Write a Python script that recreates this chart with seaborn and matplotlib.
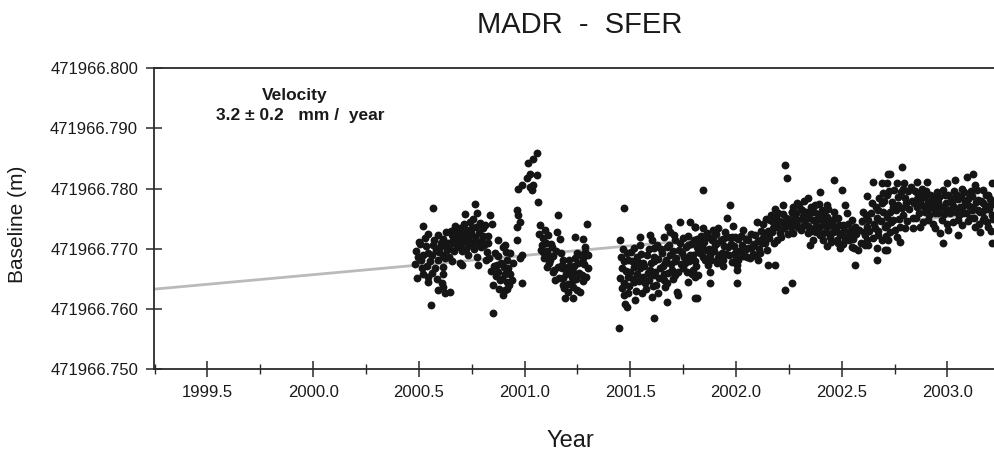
import matplotlib
matplotlib.use("Agg")
import matplotlib.pyplot as plt
import seaborn as sns
import pandas as pd
import numpy as np
from matplotlib.ticker import MultipleLocator, FixedLocator, FormatStrFormatter

plt.rcParams['font.family'] = ['Liberation Sans', 'DejaVu Sans']

title = "MADR  -  SFER"
x_label = "Year"
y_label = "Baseline (m)"
velocity_label = "Velocity"
velocity_text = "3.2 ± 0.2   mm /  year"

# baseline values are stored as mm above this reference length (m)
BASE_M = 471966.750
y_ticks = [471966.750, 471966.760, 471966.770, 471966.780, 471966.790, 471966.800]
x_range = (1999.247, 2003.22)

# fitted trend
velocity_mm_per_year = 3.2
trend_start_year = 1999.247
trend_start_mm = 13.3
trend_end_year = 2003.22

# (year, mm above BASE_M)
seg_2000 = [
    (2000.568, 26.8), (2000.521, 23.8), (2000.766, 27.4), (2000.718, 25.8), (2000.774, 25.9),
    (2000.836, 25.6), (2000.742, 24.5), (2000.789, 24.3), (2000.844, 24.2), (2000.673, 23.8),
    (2000.694, 23.4), (2000.529, 21.8), (2000.505, 20.8), (2000.592, 22.3), (2000.616, 21.7),
    (2000.655, 22.3), (2000.718, 22.8), (2000.750, 23.4), (2000.805, 23.4), (2000.876, 21.5),
    (2000.497, 18.7), (2000.545, 19.3), (2000.568, 20.6), (2000.600, 20.3), (2000.632, 19.8),
    (2000.663, 20.9), (2000.694, 20.3), (2000.734, 21.5), (2000.766, 22.0), (2000.797, 21.5),
    (2000.828, 20.9), (2000.521, 19.0), (2000.552, 17.9), (2000.592, 18.1), (2000.624, 18.4),
    (2000.655, 17.9), (2000.694, 17.6), (2000.734, 19.0), (2000.774, 18.7), (2000.821, 19.5),
    (2000.860, 19.3), (2000.900, 20.3), (2000.513, 16.8), (2000.576, 16.8), (2000.616, 17.0),
    (2000.704, 17.3), (2000.781, 17.3), (2000.868, 17.3), (2000.915, 18.1), (2000.490, 15.1),
    (2000.545, 15.4), (2000.616, 15.9), (2000.876, 16.2), (2000.907, 15.9), (2000.545, 14.5),
    (2000.608, 14.3), (2000.884, 14.8), (2000.915, 14.5), (2000.616, 13.7), (2000.852, 14.0),
    (2000.624, 12.6), (2000.647, 12.9), (2000.907, 13.2), (2000.557, 10.6), (2000.849, 9.3),
    (2000.482, 17.5), (2000.486, 19.6), (2000.500, 21.2), (2000.509, 18.1), (2000.517, 15.8),
    (2000.533, 20.4), (2000.537, 17.2), (2000.541, 22.5), (2000.560, 19.0), (2000.564, 16.0),
    (2000.572, 21.4), (2000.580, 19.8), (2000.584, 15.0), (2000.588, 13.2), (2000.596, 19.5),
    (2000.604, 20.9), (2000.612, 18.9), (2000.620, 20.7), (2000.628, 22.8), (2000.636, 21.0),
    (2000.640, 18.6), (2000.644, 20.1), (2000.651, 22.9), (2000.659, 21.5), (2000.667, 19.6),
    (2000.671, 22.1), (2000.679, 20.4), (2000.683, 23.0), (2000.687, 21.3), (2000.698, 22.0),
    (2000.702, 19.7), (2000.710, 21.1), (2000.714, 24.1), (2000.722, 20.0), (2000.726, 23.2),
    (2000.730, 22.1), (2000.738, 20.6), (2000.746, 22.7), (2000.753, 21.0), (2000.757, 24.9),
    (2000.761, 20.0), (2000.770, 23.6), (2000.778, 21.0), (2000.785, 22.6), (2000.793, 20.3),
    (2000.801, 22.1), (2000.809, 20.6), (2000.813, 24.0), (2000.817, 18.2), (2000.825, 22.2),
    (2000.832, 18.5), (2000.840, 16.4), (2000.856, 17.1), (2000.864, 15.5), (2000.872, 18.8),
    (2000.880, 13.3), (2000.888, 17.7), (2000.892, 15.0), (2000.896, 12.4), (2000.903, 17.0),
    (2000.911, 19.5), (2000.919, 16.2), (2000.927, 14.0),
]
seg_2001a = [
    (2001.057, 35.9), (2001.041, 35.0), (2001.017, 34.2), (2001.026, 32.5), (2001.057, 32.3),
    (2001.010, 31.7), (2000.986, 30.6), (2000.970, 30.0), (2001.026, 30.3), (2001.041, 30.6),
    (2001.033, 29.8), (2001.065, 27.8), (2000.962, 26.4), (2000.970, 25.6), (2000.978, 24.5),
    (2000.962, 23.7), (2001.160, 25.6), (2001.294, 24.2), (2001.073, 24.0), (2001.097, 23.1),
    (2001.152, 22.8), (2001.112, 22.3), (2001.168, 21.7), (2001.239, 22.0), (2001.278, 21.7),
    (2000.962, 21.5), (2000.907, 20.6), (2001.081, 20.6), (2001.128, 20.3), (2001.286, 20.3),
    (2000.931, 19.3), (2000.986, 19.0), (2001.089, 19.5), (2001.112, 19.0), (2001.246, 19.3),
    (2001.286, 19.5), (2000.946, 17.6), (2000.978, 18.4), (2001.120, 18.1), (2001.183, 18.1),
    (2001.239, 18.4), (2001.278, 18.4), (2000.923, 16.8), (2001.105, 17.0), (2001.175, 17.3),
    (2001.207, 17.0), (2001.254, 17.6), (2001.302, 16.8), (2000.931, 15.9), (2001.136, 16.2),
    (2001.199, 16.5), (2001.231, 16.2), (2000.939, 14.8), (2000.986, 14.3), (2001.144, 14.8),
    (2001.183, 15.1), (2001.223, 15.4), (2001.270, 15.7), (2000.915, 13.4), (2001.183, 14.0),
    (2001.231, 13.7), (2001.207, 12.9), (2001.262, 12.9), (2001.191, 11.8), (2001.231, 11.8),
    (2001.069, 22.5), (2001.077, 19.8), (2001.085, 21.8), (2001.093, 18.4), (2001.101, 21.0),
    (2001.108, 19.6), (2001.116, 17.6), (2001.124, 20.8), (2001.132, 18.8), (2001.140, 16.5),
    (2001.148, 19.6), (2001.156, 17.0), (2001.164, 15.2), (2001.171, 19.3), (2001.179, 16.8),
    (2001.187, 13.5), (2001.195, 15.8), (2001.203, 14.2), (2001.211, 18.2), (2001.219, 16.9),
    (2001.227, 14.8), (2001.235, 17.2), (2001.243, 15.0), (2001.250, 13.2), (2001.258, 16.0),
    (2001.266, 18.9), (2001.274, 14.6), (2001.282, 17.5), (2001.290, 15.3), (2001.298, 19.0),
]
seg_2001b = [
    (2001.468, 26.8), (2001.452, 21.5), (2001.447, 6.8), (2001.610, 8.5), (2001.735, 24.5),
    (2001.783, 24.5), (2001.680, 23.7), (2001.806, 23.7), (2001.688, 22.8), (2001.594, 22.3),
    (2001.546, 22.0), (2001.657, 22.0), (2001.602, 21.5), (2001.712, 21.5), (2001.515, 20.1),
    (2001.546, 20.6), (2001.625, 20.6), (2001.672, 20.3), (2001.735, 20.9), (2001.775, 20.6),
    (2001.814, 20.3), (2001.483, 19.3), (2001.531, 18.7), (2001.578, 19.0), (2001.610, 18.7),
    (2001.649, 19.3), (2001.688, 19.0), (2001.743, 19.3), (2001.783, 19.0), (2001.468, 17.9),
    (2001.507, 17.9), (2001.562, 17.6), (2001.610, 17.9), (2001.665, 17.6), (2001.712, 17.9),
    (2001.759, 17.6), (2001.806, 17.9), (2001.460, 16.8), (2001.499, 16.2), (2001.546, 16.8),
    (2001.594, 16.5), (2001.641, 16.8), (2001.696, 16.5), (2001.751, 16.8), (2001.798, 16.5),
    (2001.452, 15.1), (2001.491, 15.4), (2001.531, 15.9), (2001.610, 15.6), (2001.657, 15.9),
    (2001.712, 15.6), (2001.806, 15.4), (2001.468, 14.3), (2001.515, 14.5), (2001.570, 14.3),
    (2001.672, 14.3), (2001.775, 14.5), (2001.491, 12.6), (2001.554, 12.6), (2001.602, 12.0),
    (2001.665, 13.7), (2001.720, 12.9), (2001.633, 12.6), (2001.475, 10.9), (2001.523, 11.5),
    (2001.672, 11.2), (2001.727, 12.3), (2001.806, 11.8), (2001.483, 10.4),
    (2001.455, 18.6), (2001.459, 13.5), (2001.463, 20.0), (2001.471, 12.4), (2001.479, 16.4),
    (2001.487, 18.2), (2001.495, 13.8), (2001.503, 19.4), (2001.511, 15.0), (2001.519, 17.0),
    (2001.527, 13.0), (2001.535, 17.8), (2001.539, 14.7), (2001.550, 19.1), (2001.558, 15.3),
    (2001.566, 17.2), (2001.574, 13.4), (2001.582, 16.0), (2001.586, 20.0), (2001.590, 14.8),
    (2001.598, 17.7), (2001.606, 13.9), (2001.614, 20.2), (2001.618, 16.2), (2001.621, 14.0),
    (2001.629, 18.3), (2001.637, 15.2), (2001.645, 20.0), (2001.653, 17.2), (2001.661, 14.9),
    (2001.669, 18.2), (2001.676, 16.0), (2001.684, 20.6), (2001.692, 17.5), (2001.700, 15.0),
    (2001.704, 19.7), (2001.708, 22.3), (2001.716, 18.4), (2001.724, 16.2), (2001.731, 19.8),
    (2001.739, 17.5), (2001.747, 21.8), (2001.755, 18.7), (2001.763, 20.3), (2001.767, 16.2),
    (2001.771, 22.2), (2001.779, 18.0), (2001.787, 20.8), (2001.791, 15.8), (2001.795, 19.0),
    (2001.802, 21.5), (2001.810, 17.2), (2001.818, 19.6), (2001.826, 21.0),
]
seg_2002a = [
    (2002.232, 33.9), (2002.240, 31.7), (2001.845, 29.8), (2001.972, 27.3), (2001.956, 25.1),
    (2002.098, 24.5), (2002.224, 27.3), (2002.184, 26.7), (2002.263, 26.2), (2002.161, 24.8),
    (2002.216, 24.5), (2001.806, 23.7), (2001.845, 23.4), (2001.916, 23.4), (2001.987, 23.8),
    (2002.035, 23.1), (2002.248, 24.2), (2001.861, 22.6), (2001.893, 23.1), (2001.948, 22.8),
    (2002.090, 22.3), (2002.177, 23.4), (2002.208, 22.6), (2001.814, 21.7), (2001.885, 21.5),
    (2001.940, 21.7), (2001.995, 22.0), (2002.058, 21.5), (2002.121, 21.7), (2002.192, 21.5),
    (2001.838, 20.3), (2001.901, 20.6), (2001.964, 20.3), (2002.027, 20.6), (2002.074, 20.3),
    (2002.137, 20.9), (2001.830, 19.3), (2001.877, 19.0), (2001.932, 19.3), (2001.995, 19.3),
    (2002.043, 19.8), (2002.114, 19.3), (2002.145, 19.8), (2001.853, 18.1), (2001.916, 18.4),
    (2002.011, 18.1), (2002.066, 18.4), (2002.106, 18.1), (2001.869, 17.3), (2001.940, 17.1),
    (2002.003, 17.3), (2002.153, 17.3), (2002.184, 17.3), (2001.822, 15.6), (2001.877, 16.2),
    (2002.003, 16.5), (2001.877, 14.3), (2002.003, 14.3), (2002.263, 14.3), (2002.232, 13.2),
    (2001.814, 11.8),
    (2001.834, 22.2), (2001.842, 18.6), (2001.849, 21.2), (2001.857, 19.8), (2001.865, 22.0),
    (2001.873, 20.0), (2001.881, 18.2), (2001.889, 21.9), (2001.897, 19.6), (2001.905, 22.4),
    (2001.909, 17.6), (2001.912, 20.9), (2001.920, 19.0), (2001.928, 21.5), (2001.936, 18.2),
    (2001.944, 20.4), (2001.952, 19.1), (2001.960, 22.0), (2001.968, 18.9), (2001.976, 20.8),
    (2001.980, 17.8), (2001.983, 21.9), (2001.991, 20.4), (2001.999, 18.6), (2002.007, 21.6),
    (2002.015, 19.6), (2002.023, 22.1), (2002.031, 18.8), (2002.039, 20.2), (2002.047, 21.6),
    (2002.054, 18.6), (2002.062, 20.2), (2002.070, 22.4), (2002.078, 19.2), (2002.086, 20.8),
    (2002.094, 18.8), (2002.102, 21.3), (2002.110, 20.0), (2002.118, 23.0), (2002.125, 21.0),
    (2002.129, 24.2), (2002.133, 22.3), (2002.141, 25.0), (2002.149, 23.0), (2002.157, 21.8),
    (2002.165, 25.6), (2002.169, 22.8), (2002.173, 24.4), (2002.180, 21.0), (2002.188, 25.2),
    (2002.196, 23.6), (2002.200, 26.0), (2002.204, 24.6), (2002.212, 22.0), (2002.220, 25.8),
    (2002.228, 23.4), (2002.236, 25.2), (2002.244, 22.5), (2002.252, 25.0),
]
seg_2002b = [
    (2002.461, 31.4), (2002.650, 31.1), (2002.689, 30.9), (2002.720, 32.5), (2002.397, 29.5),
    (2002.500, 29.8), (2002.618, 28.7), (2002.697, 29.2), (2002.287, 27.6), (2002.342, 28.4),
    (2002.374, 27.3), (2002.429, 27.3), (2002.516, 27.3), (2002.642, 27.6), (2002.689, 27.6),
    (2002.263, 26.2), (2002.311, 26.4), (2002.350, 26.2), (2002.405, 26.4), (2002.461, 26.2),
    (2002.524, 25.9), (2002.602, 26.2), (2002.673, 26.4), (2002.279, 25.1), (2002.326, 24.8),
    (2002.382, 24.8), (2002.429, 25.3), (2002.484, 25.1), (2002.547, 24.8), (2002.626, 24.8),
    (2002.665, 25.1), (2002.712, 25.3), (2002.295, 23.7), (2002.374, 23.7), (2002.413, 24.0),
    (2002.468, 23.4), (2002.508, 24.0), (2002.563, 23.7), (2002.618, 23.7), (2002.657, 23.4),
    (2002.705, 23.7), (2002.271, 22.6), (2002.342, 22.6), (2002.397, 22.3), (2002.445, 22.0),
    (2002.492, 22.3), (2002.539, 22.6), (2002.610, 22.3), (2002.673, 22.3), (2002.366, 21.5),
    (2002.413, 21.5), (2002.476, 21.5), (2002.516, 21.5), (2002.618, 21.5), (2002.689, 21.5),
    (2002.350, 20.6), (2002.429, 20.5), (2002.492, 20.1), (2002.547, 20.3), (2002.610, 20.6),
    (2002.665, 20.1), (2002.712, 19.8), (2002.563, 17.3), (2002.665, 18.1),
    (2002.259, 23.6), (2002.267, 27.0), (2002.275, 24.2), (2002.283, 26.0), (2002.291, 24.8),
    (2002.299, 27.2), (2002.307, 23.2), (2002.315, 25.5), (2002.319, 27.9), (2002.322, 24.0),
    (2002.330, 26.2), (2002.338, 23.8), (2002.346, 25.2), (2002.354, 27.0), (2002.358, 23.0),
    (2002.362, 24.8), (2002.370, 26.2), (2002.378, 22.8), (2002.386, 25.8), (2002.390, 27.5),
    (2002.393, 23.6), (2002.401, 25.0), (2002.409, 22.6), (2002.417, 26.0), (2002.421, 24.4),
    (2002.425, 22.8), (2002.433, 23.8), (2002.437, 26.6), (2002.441, 24.6), (2002.449, 21.2),
    (2002.453, 24.2), (2002.457, 22.8), (2002.465, 25.0), (2002.472, 23.0), (2002.480, 21.0),
    (2002.488, 24.0), (2002.496, 22.6), (2002.504, 20.8), (2002.512, 23.2), (2002.520, 22.0),
    (2002.528, 24.2), (2002.535, 21.4), (2002.543, 23.2), (2002.551, 21.6), (2002.559, 20.2),
    (2002.567, 22.4), (2002.575, 19.8), (2002.583, 23.2), (2002.591, 21.0), (2002.598, 24.6),
    (2002.606, 22.8), (2002.614, 25.6), (2002.622, 20.6), (2002.630, 23.0), (2002.638, 26.0),
    (2002.646, 21.8), (2002.654, 24.2), (2002.661, 27.0), (2002.669, 23.0), (2002.677, 28.4),
    (2002.685, 24.6), (2002.693, 26.2), (2002.701, 28.0), (2002.709, 22.2),
]
seg_2003 = [
    (2002.783, 33.6), (2002.728, 32.5), (2003.122, 32.5), (2003.091, 31.9), (2003.036, 31.4),
    (2002.902, 31.1), (2002.855, 31.1), (2002.997, 30.9), (2003.130, 30.6), (2003.209, 30.9),
    (2002.712, 30.9), (2002.760, 30.9), (2002.791, 30.0), (2002.878, 30.0), (2002.949, 29.5),
    (2003.067, 30.0), (2003.170, 29.8), (2002.712, 28.9), (2002.862, 28.9), (2002.926, 28.7),
    (2002.989, 28.9), (2003.044, 28.9), (2003.106, 28.9), (2003.193, 28.9), (2002.736, 27.8),
    (2002.799, 28.4), (2002.870, 27.8), (2002.957, 27.8), (2003.020, 27.8), (2003.083, 27.8),
    (2003.146, 28.1), (2003.209, 27.8), (2002.768, 27.3), (2002.855, 27.0), (2002.910, 26.7),
    (2002.981, 27.0), (2003.059, 27.0), (2003.122, 27.0), (2003.177, 26.7), (2002.728, 26.2),
    (2002.791, 25.6), (2002.894, 26.2), (2002.941, 25.9), (2003.012, 25.9), (2003.075, 25.9),
    (2003.154, 26.2), (2003.209, 25.6), (2002.744, 24.8), (2002.839, 25.1), (2002.910, 24.8),
    (2002.973, 24.8), (2003.051, 24.8), (2003.106, 25.1), (2003.170, 24.8), (2002.712, 24.0),
    (2002.775, 23.7), (2002.870, 23.7), (2002.941, 23.4), (2002.997, 24.2), (2003.067, 24.0),
    (2003.130, 23.7), (2003.193, 23.7), (2002.728, 22.8), (2002.799, 23.4), (2002.965, 22.6),
    (2003.004, 23.1), (2003.154, 22.8), (2002.760, 22.0), (2002.720, 21.5), (2002.775, 21.2),
    (2002.981, 20.9), (2003.051, 22.3), (2003.209, 20.9), (2002.705, 19.8),
    (2002.724, 29.6), (2002.732, 24.4), (2002.740, 27.0), (2002.748, 29.8), (2002.752, 23.2),
    (2002.756, 26.4), (2002.764, 28.6), (2002.772, 25.0), (2002.780, 29.4), (2002.787, 26.8),
    (2002.795, 31.0), (2002.803, 27.6), (2002.807, 24.6), (2002.811, 29.6), (2002.819, 26.6),
    (2002.827, 30.2), (2002.831, 28.0), (2002.835, 23.4), (2002.843, 27.6), (2002.847, 29.6),
    (2002.851, 25.2), (2002.858, 28.2), (2002.866, 26.0), (2002.874, 29.4), (2002.882, 27.2),
    (2002.886, 24.4), (2002.890, 28.6), (2002.898, 29.6), (2002.906, 27.8), (2002.914, 25.6),
    (2002.918, 29.0), (2002.922, 27.6), (2002.930, 24.2), (2002.934, 26.8), (2002.937, 28.6),
    (2002.945, 27.2), (2002.953, 26.0), (2002.961, 28.6), (2002.969, 27.0), (2002.977, 29.8),
    (2002.985, 25.8), (2002.993, 27.6), (2003.001, 29.0), (2003.008, 26.4), (2003.016, 28.4),
    (2003.024, 24.4), (2003.028, 27.2), (2003.032, 29.6), (2003.040, 26.2), (2003.048, 28.2),
    (2003.055, 25.6), (2003.063, 28.6), (2003.071, 27.0), (2003.079, 29.4), (2003.087, 26.0),
    (2003.095, 28.2), (2003.099, 24.6), (2003.103, 27.2), (2003.110, 29.6), (2003.114, 26.4),
    (2003.118, 28.8), (2003.126, 25.2), (2003.134, 27.8), (2003.138, 29.8), (2003.142, 26.4),
    (2003.150, 24.2), (2003.158, 28.0), (2003.162, 26.2), (2003.166, 27.6), (2003.174, 25.2),
    (2003.181, 29.0), (2003.185, 27.2), (2003.189, 24.4), (2003.197, 26.6), (2003.201, 28.2),
    (2003.205, 23.0), (2003.213, 27.4), (2003.217, 25.0),
]

segments = [seg_2000, seg_2001a, seg_2001b, seg_2002a, seg_2002b, seg_2003]
df = pd.DataFrame([p for s in segments for p in s], columns=["year", "mm"])
df["baseline"] = BASE_M + df["mm"] / 1000.0

trend_years = np.array([trend_start_year, trend_end_year])
trend = pd.DataFrame({
    "year": trend_years,
    "baseline": BASE_M + (trend_start_mm + velocity_mm_per_year * (trend_years - trend_start_year)) / 1000.0,
})

W, H = 994, 453
fig = plt.figure(figsize=(W / 100, H / 100), dpi=100)
left_px, right_px, top_px, bottom_px = 154, 994, 68.3, 369.2
ax = fig.add_axes([left_px / W, 1 - bottom_px / H, (right_px - left_px) / W, (bottom_px - top_px) / H])

sns.lineplot(data=trend, x="year", y="baseline", ax=ax, color="#bababa", linewidth=2.0, zorder=1)
sns.scatterplot(data=df, x="year", y="baseline", ax=ax, color="#151515", s=32, linewidth=0, zorder=2)

ax.set_xlim(*x_range)
ax.set_ylim(y_ticks[0], y_ticks[-1])
ax.xaxis.set_major_locator(MultipleLocator(0.5))
ax.xaxis.set_minor_locator(MultipleLocator(0.25))
ax.xaxis.set_major_formatter(FormatStrFormatter("%.1f"))
ax.yaxis.set_major_locator(FixedLocator(y_ticks))
ax.yaxis.set_major_formatter(FormatStrFormatter("%.3f"))
ax.set_xlabel("")
ax.set_ylabel("")

for side in ["top", "left", "bottom"]:
    ax.spines[side].set_linewidth(1.3)
    ax.spines[side].set_color("#2a2a2a")
ax.spines["right"].set_visible(False)

ax.tick_params(axis="both", which="major", direction="inout", length=11, width=1.1,
               color="#2a2a2a", labelsize=12, labelcolor="#1a1a1a", pad=6)
ax.tick_params(axis="x", which="minor", direction="inout", length=7, width=1.0, color="#2a2a2a")
ax.tick_params(axis="y", which="minor", left=False)

fig.text(580 / W, 1 - 33.3 / H, title, ha="center", va="baseline", fontsize=21, color="#1a1a1a")
fig.text(18 / W, 1 - 224 / H, y_label, ha="center", va="center", rotation=90, fontsize=15, color="#1a1a1a")
fig.text(570 / W, 1 - 447 / H, x_label, ha="center", va="baseline", fontsize=17, color="#1a1a1a")
fig.text(294.5 / W, 1 - 100 / H, velocity_label, ha="center", va="baseline", fontsize=12.5,
         fontweight="bold", color="#1a1a1a")
fig.text(300.5 / W, 1 - 120 / H, velocity_text, ha="center", va="baseline", fontsize=12.5,
         fontweight="bold", color="#1a1a1a")

fig.savefig("out.png", dpi=100, facecolor="white")
